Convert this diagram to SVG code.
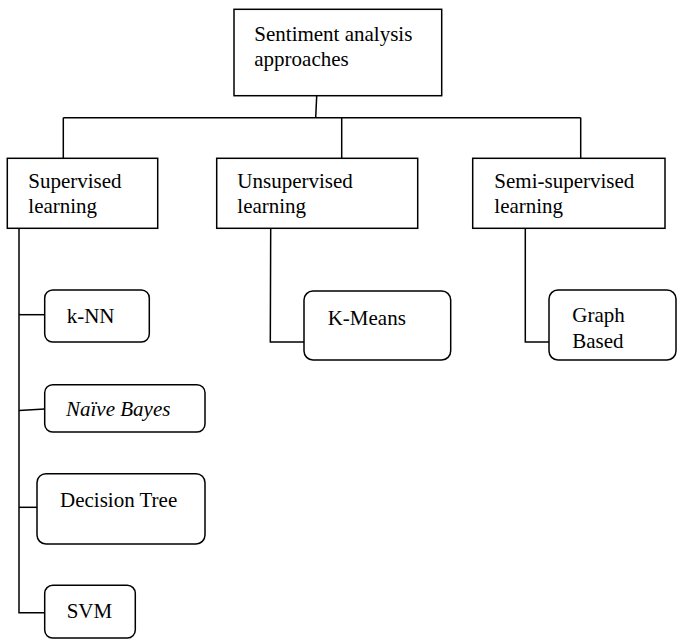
<svg xmlns="http://www.w3.org/2000/svg" width="677" height="639" viewBox="0 0 677 639">
<style>
.box{fill:#fff;stroke:#000;stroke-width:1.5}
.conn{fill:none;stroke:#000;stroke-width:1.5}
.t{font-family:'Liberation Serif','DejaVu Serif',serif;font-size:21px;fill:#000}
.it{font-style:italic}
</style>
<rect width="677" height="639" fill="#fff"/>
<g id="connectors" class="conn">
<path d="M316.7,95.7 L315.7,117.7"/>
<path d="M63.3,117.7 H580.7"/>
<path d="M63.3,117.7 V158.3"/>
<path d="M341.7,117.7 V158.3"/>
<path d="M580.7,117.7 V158.3"/>
<path d="M19,228.3 V612.7 H44.7"/>
<path d="M19,314.7 H44.7"/>
<path d="M19,410.5 L44.7,409"/>
<path d="M19,507.3 H37"/>
<path d="M270.7,228.3 L270.3,342 H304"/>
<path d="M525.3,228.3 V342 H549"/>
</g>
<g id="root">
<rect class="box" x="234" y="9.3" width="207.7" height="86.4"/>
<text class="t" font-family="Liberation Serif, serif" x="254.3" y="40.7">Sentiment analysis</text>
<text class="t" font-family="Liberation Serif, serif" x="254.3" y="65.5">approaches</text>
</g>
<g id="supervised">
<rect class="box" x="7.3" y="158.3" width="150.4" height="70"/>
<text class="t" x="28.3" y="188.3">Supervised</text>
<text class="t" x="28.3" y="212.7">learning</text>
</g>
<g id="unsupervised">
<rect class="box" x="216.7" y="158.3" width="201" height="70"/>
<text class="t" x="237.3" y="188.3">Unsupervised</text>
<text class="t" x="237.3" y="212.7">learning</text>
</g>
<g id="semi">
<rect class="box" x="472.7" y="158.3" width="192.3" height="70"/>
<text class="t" x="494.3" y="188.3">Semi-supervised</text>
<text class="t" x="494.3" y="212.7">learning</text>
</g>
<g id="knn">
<rect class="box" x="44.7" y="290" width="104.6" height="52" rx="8"/>
<text class="t" x="66.7" y="323">k-NN</text>
</g>
<g id="naive">
<rect class="box" x="44.7" y="384.7" width="160.3" height="47.3" rx="8"/>
<text class="t it" x="66" y="416">Naïve Bayes</text>
</g>
<g id="decision">
<rect class="box" x="37" y="473.7" width="168" height="70.3" rx="9"/>
<text class="t" x="60" y="506.7">Decision Tree</text>
</g>
<g id="svm">
<rect class="box" x="44.7" y="585.3" width="90.6" height="52.7" rx="8"/>
<text class="t" x="66.7" y="618">SVM</text>
</g>
<g id="kmeans">
<rect class="box" x="304" y="291" width="146.7" height="69" rx="9"/>
<text class="t" x="327.7" y="324.7">K-Means</text>
</g>
<g id="graph">
<rect class="box" x="549" y="290" width="127" height="70" rx="9"/>
<text class="t" x="572.3" y="322.3">Graph</text>
<text class="t" x="572.3" y="347.7">Based</text>
</g>
</svg>
